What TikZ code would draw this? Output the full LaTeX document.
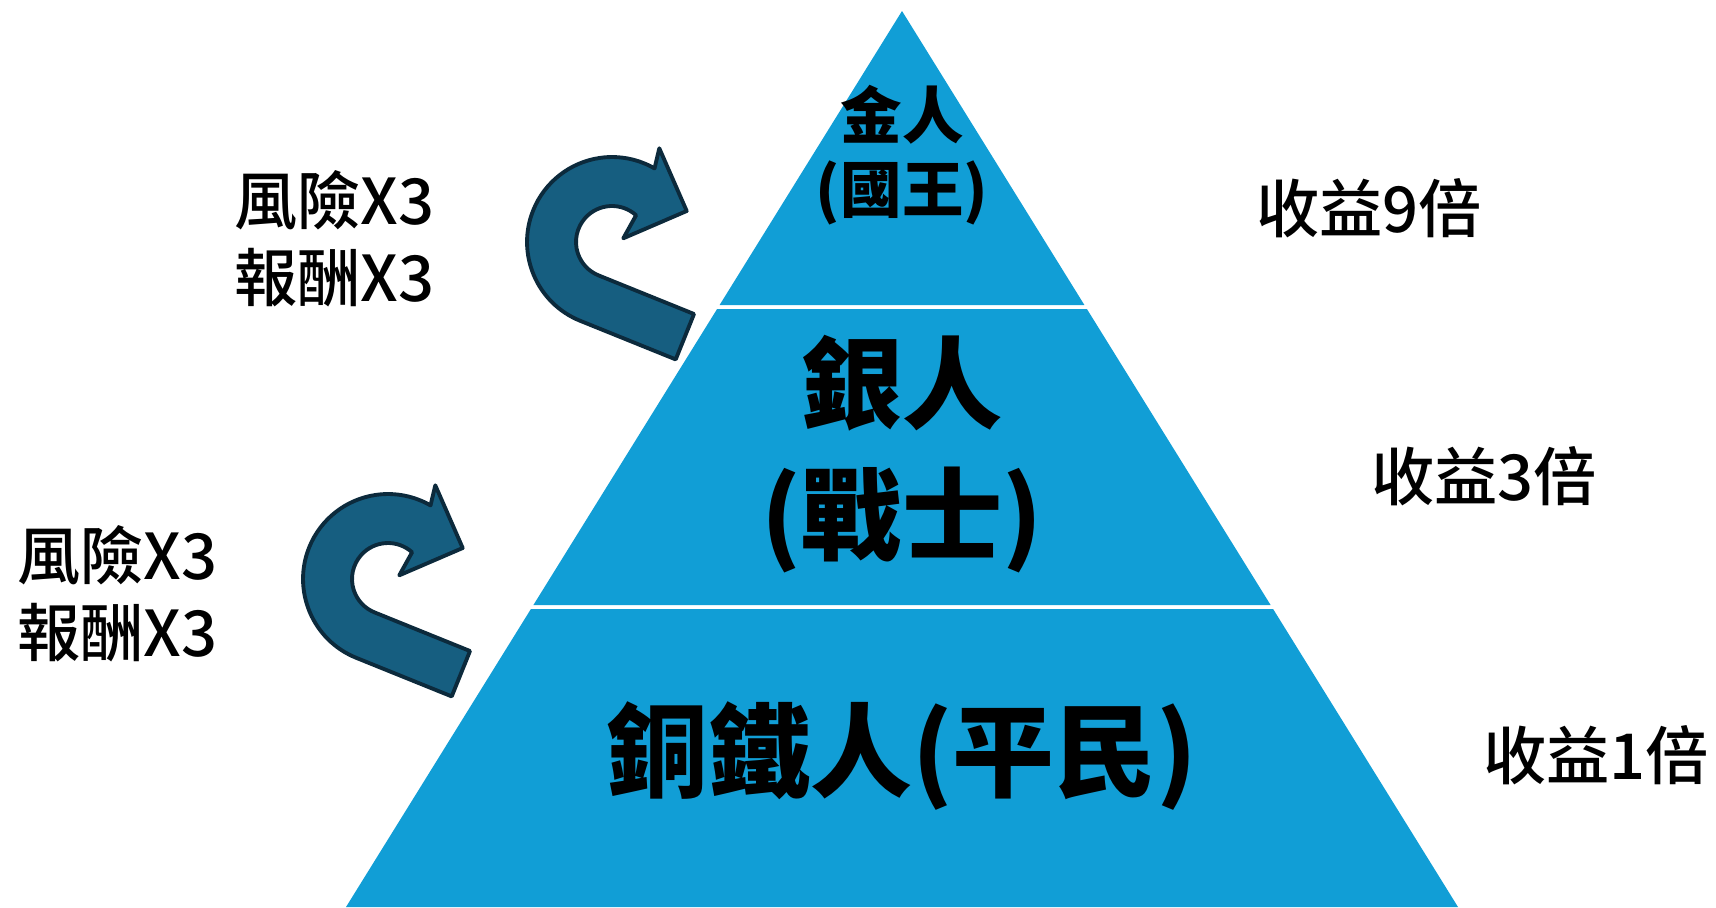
\documentclass[tikz,border=0pt]{standalone}
\usepackage{fontspec}
\usepackage{xcolor}
\usepackage{tikz}
\newfontfamily\cjk{Noto Sans CJK TC}[BoldFont={Noto Sans CJK TC Medium}]
\newfontfamily\cjktier{Noto Sans CJK TC}
\definecolor{pyrblue}{RGB}{17,158,214}
\definecolor{arrowteal}{RGB}{22,94,128}
\definecolor{arrowline}{RGB}{12,42,60}
\tikzset{
    tier/.style = {fill=pyrblue},
    tiertext/.style = {align=center, inner sep=0pt, text=black},
    sidetext/.style = {align=center, inner sep=0pt, font=\cjk\bfseries\fontsize{36}{44}\selectfont},
    uturn/.style = {fill=arrowteal, draw=arrowline, line width=2.2pt, line join=round},
}

\begin{document}
\begin{tikzpicture}[x=0.02cm, y=-0.02cm]
    \useasboundingbox (0,0) rectangle (1716,907);
    % pyramid tiers
    \fill[tier] (902,11) -- (1084.4,305) -- (719.6,305) -- cycle;
    \fill[tier] (717.1,309) -- (1086.9,309) -- (1270.6,605) -- (533.4,605) -- cycle;
    \fill[tier] (530.9,609) -- (1273.1,609) -- (1458,907) -- (346,907) -- cycle;
    \node (gold) at (902,155) [tiertext, font=\cjktier\bfseries\fontsize{35}{42}\selectfont] {金人\\(國王)};
    \node (silver) at (902,454) [tiertext, font=\cjktier\bfseries\fontsize{57}{75}\selectfont] {銀人\\(戰士)};
    \node (bronze) at (902,756) [tiertext, font=\cjktier\bfseries\fontsize{58}{68}\selectfont] {銅鐵人(平民)};
    % u-turn arrows
    \foreach \cx/\cy in {612/242, 388/579} {
        \begin{scope}[shift={(\cx,\cy)}, x=0.02cm, y=0.02cm]
            \filldraw[uturn] (63.7,-117.4) -- (-31.8,-78.8)
                arc[start angle=248, end angle=60, radius=1.7cm]
                -- (47.3,93.7) -- (74.7,31) -- (11.3,3.7) -- (48:0.72cm)
                arc[start angle=48, end angle=248, radius=0.72cm]
                -- (82,-72) -- cycle;
        \end{scope}
    }
    \node (risk1) at (334.5,239) [sidetext] {風險X3\\報酬X3};
    \node (risk2) at (117.5,594) [sidetext] {風險X3\\報酬X3};
    \node (gain9) at (1369,208) [sidetext] {收益9倍};
    \node (gain3) at (1484,476) [sidetext] {收益3倍};
    \node (gain1) at (1596,755) [sidetext] {收益1倍};
\end{tikzpicture}
\end{document}
